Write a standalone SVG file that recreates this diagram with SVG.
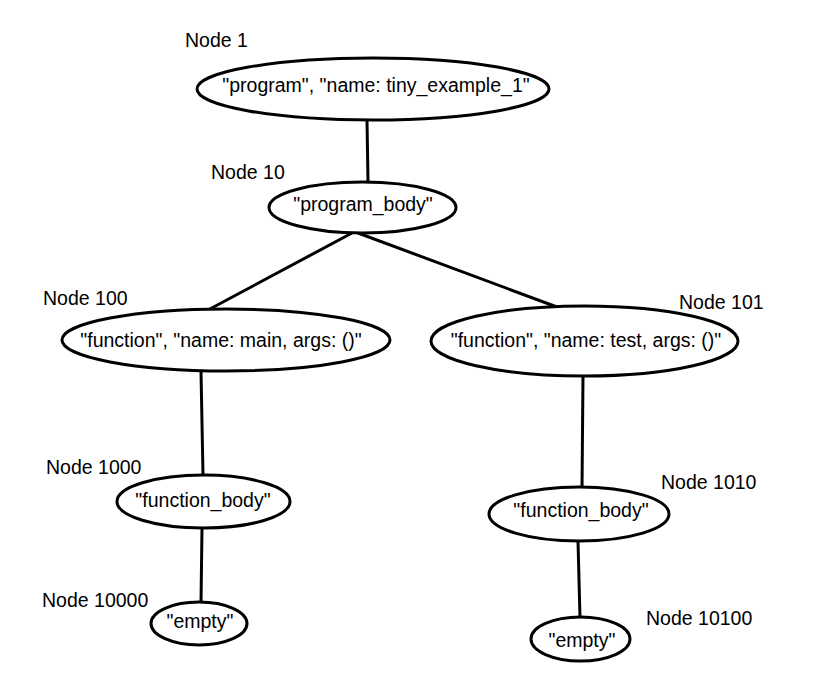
<svg xmlns="http://www.w3.org/2000/svg" width="829" height="697" viewBox="0 0 829 697">
<style>
.n{fill:#fff;stroke:#000;stroke-width:3}
.e{stroke:#000;stroke-width:3;fill:none}
text{font-family:"Liberation Sans",Arial,sans-serif;font-size:19.5px;fill:#000}
.c{text-anchor:middle}
</style>
<rect width="829" height="697" fill="#fff"/>
<g id="connectors">
<line class="e" x1="367" y1="120" x2="368" y2="182"/>
<line class="e" x1="352" y1="233" x2="208" y2="310"/>
<line class="e" x1="358" y1="233" x2="557" y2="307"/>
<line class="e" x1="201" y1="371" x2="203" y2="475"/>
<line class="e" x1="583" y1="376" x2="582" y2="488"/>
<line class="e" x1="202" y1="528" x2="201" y2="603"/>
<line class="e" x1="578" y1="541" x2="580" y2="618"/>
</g>
<g id="node1">
<ellipse class="n" cx="373" cy="89" rx="176" ry="31"/>
<text class="c" x="376" y="92">"program", "name: tiny_example_1"</text>
<text x="185" y="47">Node 1</text>
</g>
<g id="node10">
<ellipse class="n" cx="362.5" cy="207.5" rx="93.5" ry="25.5"/>
<text class="c" x="363" y="211">"program_body"</text>
<text x="211" y="179">Node 10</text>
</g>
<g id="node100">
<ellipse class="n" cx="226" cy="340" rx="164" ry="31"/>
<text class="c" x="221" y="347">"function", "name: main, args: ()"</text>
<text x="43" y="305">Node 100</text>
</g>
<g id="node101">
<ellipse class="n" cx="584.5" cy="341" rx="153.5" ry="35"/>
<text class="c" x="586" y="347">"function", "name: test, args: ()"</text>
<text x="679" y="309">Node 101</text>
</g>
<g id="node1000">
<ellipse class="n" cx="203.5" cy="501.5" rx="86.5" ry="26.5"/>
<text class="c" x="203" y="507">"function_body"</text>
<text x="46" y="474">Node 1000</text>
</g>
<g id="node1010">
<ellipse class="n" cx="579" cy="514" rx="90" ry="27"/>
<text class="c" x="581" y="517">"function_body"</text>
<text x="661" y="489">Node 1010</text>
</g>
<g id="node10000">
<ellipse class="n" cx="199" cy="623.5" rx="48" ry="21.5"/>
<text class="c" x="200" y="628">"empty"</text>
<text x="42" y="607">Node 10000</text>
</g>
<g id="node10100">
<ellipse class="n" cx="580.5" cy="639" rx="49.5" ry="22"/>
<text class="c" x="582" y="647">"empty"</text>
<text x="646" y="625">Node 10100</text>
</g>
</svg>
